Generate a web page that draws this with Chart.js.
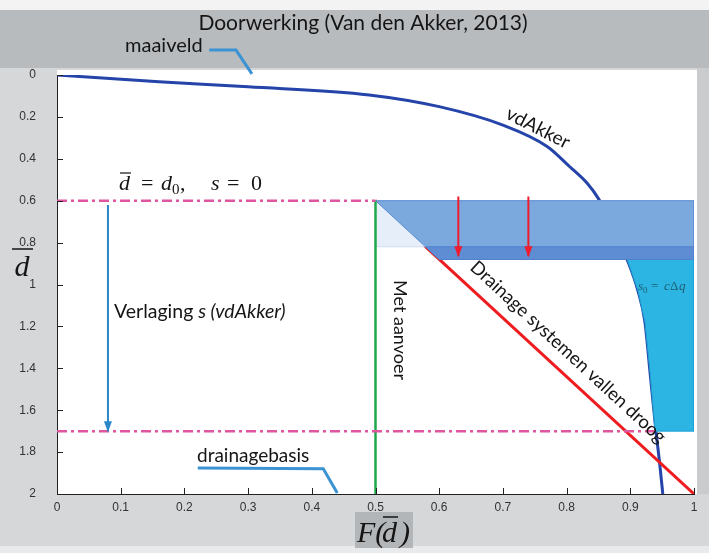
<!DOCTYPE html>
<html>
<head>
<meta charset="utf-8">
<script src="https://cdn.jsdelivr.net/npm/chart.js@4.4.0/dist/chart.umd.min.js"></script>
<style>
  html, body { margin: 0; padding: 0; background: #d5d7d9; }
  canvas { display: block; }
</style>
</head>
<body>
<canvas id="chart" width="709" height="553"></canvas>
<script>
const xTickLabels = ["0", "0.1", "0.2", "0.3", "0.4", "0.5", "0.6", "0.7", "0.8", "0.9", "1"];
const yTickLabels = ["0", "0.2", "0.4", "0.6", "0.8", "1", "1.2", "1.4", "1.6", "1.8", "2"];

// vdAkker curve, F(d) against d
const vdAkkerF = [0, 0.16, 0.30, 0.49, 0.60, 0.70, 0.77, 0.805, 0.832, 0.85, 0.873, 0.895, 0.912, 0.923, 0.931, 0.941, 0.946, 0.951];
const vdAkkerD = [0, 0.032, 0.056, 0.095, 0.151, 0.239, 0.342, 0.438, 0.516, 0.59, 0.72, 0.88, 1.03, 1.18, 1.42, 1.72, 1.85, 2.0];

// reference levels
const d0LineF = [0, 0.5];
const d0LineD = [0.6, 0.6];
const baseLineF = [0, 0.94];
const baseLineD = [1.7, 1.7];

// verlaging arrow
const verlagingF = [0.08, 0.08];
const verlagingD = [0.62, 1.7];

// met aanvoer / drainage
const aanvoerF = [0.5, 0.5];
const aanvoerD = [0.6, 2.0];
const drainF = [0.5, 1.0];
const drainD = [0.6, 2.0];

// shaded areas
const paleF = [0.5, 1.0, 1.0, 0.5, 0.5];
const paleD = [0.6, 0.6, 0.82, 0.82, 0.6];
const bandF = [0.5, 1.0, 1.0, 0.6, 0.5];
const bandD = [0.6, 0.6, 0.88, 0.88, 0.6];
const stripF = [0.5786, 1.0, 1.0, 0.6, 0.5786];
const stripD = [0.82, 0.82, 0.88, 0.88, 0.82];
const cyanF = [0.895, 1.0, 1.0, 0.939, 0.931, 0.923, 0.912, 0.903, 0.895];
const cyanD = [0.88, 0.88, 1.7, 1.7, 1.42, 1.18, 1.03, 0.95, 0.88];

// red arrows in the band
const dropF = [0.63, 0.74];
const dropTop = 0.58;
const dropBottom = 0.865;

// callout leaders
const maaiveldLeaderF = [0.239, 0.281, 0.306];
const maaiveldLeaderD = [-0.119, -0.119, -0.005];
const baseLeaderF = [0.221, 0.418, 0.44];
const baseLeaderD = [1.876, 1.88, 1.995];

const pts = (fs, ds) => fs.map((f, i) => ({ x: f, y: ds[i] }));

function lineSet(fs, ds, color, width, order, extra) {
    return Object.assign({
        data: pts(fs, ds),
        borderColor: color,
        borderWidth: width,
        fill: false,
        pointRadius: 0,
        order: order,
    }, extra || {});
}

function shapeSet(fs, ds, fillColor, borderColor, order) {
    return {
        data: pts(fs, ds),
        borderColor: borderColor,
        borderWidth: 1,
        backgroundColor: fillColor,
        fill: "shape",
        pointRadius: 0,
        order: order,
    };
}

const dash = [10, 4, 3, 4];

const datasets = [
    lineSet(vdAkkerF, vdAkkerD, "#2444aa", 3, 9, { cubicInterpolationMode: "monotone" }),
    lineSet(drainF, drainD, "#ee1b1f", 3, 8),
    shapeSet(cyanF, cyanD, "#2cb5e2", "#1f9fd4", 7),
    shapeSet(paleF, paleD, "#e6eef9", "#cfdcf0", 6),
    shapeSet(bandF, bandD, "#7ba8dd", "#5d8fd3", 5),
    shapeSet(stripF, stripD, "#5f8dd3", "#4f80cc", 4),
    lineSet(aanvoerF, aanvoerD, "#1fa84a", 2.5, 3),
    lineSet(d0LineF, d0LineD, "#e0559f", 2.5, 2, { borderDash: dash }),
    lineSet(baseLineF, baseLineD, "#e0559f", 2.5, 2, { borderDash: dash }),
    lineSet(verlagingF, verlagingD, "#2a88c8", 2, 1, { arrowHead: "#2a88c8" }),
    lineSet(maaiveldLeaderF, maaiveldLeaderD, "#3b93d3", 3, 1, { clip: false }),
    lineSet(baseLeaderF, baseLeaderD, "#3b93d3", 3, 1, { clip: false }),
];
dropF.forEach(f => {
    datasets.push(lineSet([f, f], [dropTop, dropBottom], "#ef1c2e", 2, 0, { arrowHead: "#ef1c2e" }));
});

const frame = {
    id: "frame",
    beforeDraw(chart) {
        const { ctx, chartArea: a, width, height } = chart;
        ctx.save();
        ctx.fillStyle = "#d5d7d9";
        ctx.fillRect(0, 0, width, height);
        ctx.fillStyle = "#f3f3f3";
        ctx.fillRect(0, 0, width, 10);
        ctx.fillStyle = "#b8bbbe";
        ctx.fillRect(0, 10, width, 58);
        ctx.fillStyle = "#c9cbcd";
        ctx.fillRect(a.right + 3, 68, width - a.right - 3, a.bottom - 68);
        ctx.fillStyle = "#ffffff";
        ctx.fillRect(a.left, 70, a.right + 3 - a.left, a.bottom - 70);
        ctx.fillStyle = "#e9eaeb";
        ctx.fillRect(0, 546, width, height - 546);
        // box behind the x axis title
        ctx.fillStyle = "#b3b6b9";
        ctx.fillRect(355, 512, 58, 36);
        ctx.restore();
    },
};

const arrowHeads = {
    id: "arrowHeads",
    afterDatasetsDraw(chart) {
        const { ctx } = chart;
        ctx.save();
        chart.data.datasets.forEach((ds, i) => {
            if (!ds.arrowHead) return;
            const meta = chart.getDatasetMeta(i);
            const p = meta.data[meta.data.length - 1];
            ctx.fillStyle = ds.arrowHead;
            ctx.beginPath();
            ctx.moveTo(p.x, p.y + 1);
            ctx.lineTo(p.x - 4, p.y - 10);
            ctx.lineTo(p.x + 4, p.y - 10);
            ctx.closePath();
            ctx.fill();
        });
        ctx.restore();
    },
};

const innerTicks = {
    id: "innerTicks",
    afterDraw(chart) {
        const { ctx, chartArea: a, scales: { x, y } } = chart;
        ctx.save();
        ctx.strokeStyle = "#222";
        ctx.lineWidth = 1;
        ctx.beginPath();
        x.ticks.forEach(t => {
            const px = Math.round(x.getPixelForValue(t.value)) + 0.5;
            ctx.moveTo(px, a.bottom);
            ctx.lineTo(px, a.bottom - 6);
        });
        y.ticks.forEach(t => {
            const py = Math.round(y.getPixelForValue(t.value)) + 0.5;
            ctx.moveTo(a.left, py);
            ctx.lineTo(a.left + 6, py);
        });
        ctx.stroke();
        ctx.restore();
    },
};

function text(ctx, str, x, y, font, opts) {
    const o = opts || {};
    ctx.save();
    ctx.translate(x, y);
    if (o.angle) ctx.rotate(o.angle * Math.PI / 180);
    ctx.font = font;
    ctx.fillStyle = o.color || "#151515";
    ctx.textAlign = o.align || "left";
    ctx.textBaseline = o.baseline || "middle";
    ctx.fillText(str, 0, 0);
    const w = ctx.measureText(str).width;
    ctx.restore();
    return w;
}

function overline(ctx, x1, x2, y, width) {
    ctx.save();
    ctx.strokeStyle = "#151515";
    ctx.lineWidth = width;
    ctx.beginPath();
    ctx.moveTo(x1, y);
    ctx.lineTo(x2, y);
    ctx.stroke();
    ctx.restore();
}

const labels = {
    id: "labels",
    afterDraw(chart) {
        const { ctx } = chart;
        const sans = "Lato, 'Open Sans', sans-serif";
        const serif = "'Liberation Serif', 'DejaVu Serif', serif";

        text(ctx, "Doorwerking (Van den Akker, 2013)", 363, 23, "21px " + sans, { align: "center" });
        text(ctx, "maaiveld", 125, 46, "20px " + sans);
        text(ctx, "vdAkker", 538, 128, "19px " + sans, { align: "center", angle: 27 });
        const w = text(ctx, "Verlaging ", 114, 312, "19.5px " + sans);
        text(ctx, "s (vdAkker)", 114 + w, 312, "italic 19.5px " + sans);
        text(ctx, "drainagebasis", 197, 456, "19px " + sans);
        text(ctx, "Met aanvoer", 400, 330, "18px " + sans, { align: "center", angle: 90 });
        text(ctx, "Drainage systemen vallen droog", 568, 352, "18.5px " + sans, { align: "center", angle: 42.7 });

        // d = d0,   s = 0
        const b = { baseline: "alphabetic" };
        text(ctx, "d", 119, 190, "italic 22px " + serif, b);
        overline(ctx, 120, 131, 173, 1.2);
        text(ctx, "=", 141, 190, "22px " + serif, b);
        text(ctx, "d", 161, 190, "italic 22px " + serif, b);
        text(ctx, "0", 172, 194, "15px " + serif, b);
        text(ctx, ",", 180, 190, "22px " + serif, b);
        text(ctx, "s", 211, 190, "italic 22px " + serif, b);
        text(ctx, "=", 227, 190, "22px " + serif, b);
        text(ctx, "0", 251, 190, "22px " + serif, b);

        // s0 = c dq
        const c = { baseline: "alphabetic", color: "#1d5f73" };
        text(ctx, "s", 638, 290, "italic 13px " + serif, c);
        text(ctx, "0", 643, 293, "9px " + serif, c);
        text(ctx, "=", 651, 290, "13px " + serif, c);
        text(ctx, "c", 664, 290, "italic 13px " + serif, c);
        text(ctx, "\u0394", 670, 290, "13px " + serif, c);
        text(ctx, "q", 679, 290, "italic 13px " + serif, c);

        // axis titles
        text(ctx, "d", 22, 276, "italic 30px " + serif, { baseline: "alphabetic", align: "center" });
        overline(ctx, 12, 33, 249, 1.5);
        text(ctx, "F(", 357, 542, "italic 30px " + serif, b);
        text(ctx, "d", 382, 542, "italic 30px " + serif, b);
        overline(ctx, 383, 398, 517, 1.5);
        text(ctx, ")", 400, 542, "italic 30px " + serif, b);
    },
};

const tickFont = { family: "'Liberation Sans', Arial, sans-serif", size: 12 };

new Chart(document.getElementById("chart"), {
    type: "line",
    data: { datasets },
    options: {
        responsive: false,
        animation: false,
        devicePixelRatio: 1,
        layout: { padding: { left: 0, right: 15, top: 75, bottom: 0 } },
        plugins: {
            legend: { display: false },
            tooltip: { enabled: false },
        },
        elements: { point: { radius: 0 }, line: { tension: 0 } },
        scales: {
            x: {
                type: "linear",
                min: 0,
                max: 1,
                grid: { display: false },
                border: { display: true, color: "#222", width: 1 },
                ticks: {
                    stepSize: 0.1,
                    padding: -2,
                    color: "#333",
                    font: tickFont,
                    maxRotation: 0,
                    autoSkip: false,
                    callback: v => xTickLabels[Math.round(v * 10)],
                },
                afterFit: s => { s.height = 59; },
            },
            y: {
                type: "linear",
                reverse: true,
                min: 0,
                max: 2,
                grid: { display: false },
                border: { display: true, color: "#222", width: 1 },
                ticks: {
                    stepSize: 0.2,
                    padding: 13,
                    color: "#333",
                    font: tickFont,
                    autoSkip: false,
                    callback: v => yTickLabels[Math.round(v * 5)],
                },
                afterFit: s => { s.width = 57; },
            },
        },
    },
    plugins: [frame, arrowHeads, innerTicks, labels],
});
</script>
</body>
</html>
